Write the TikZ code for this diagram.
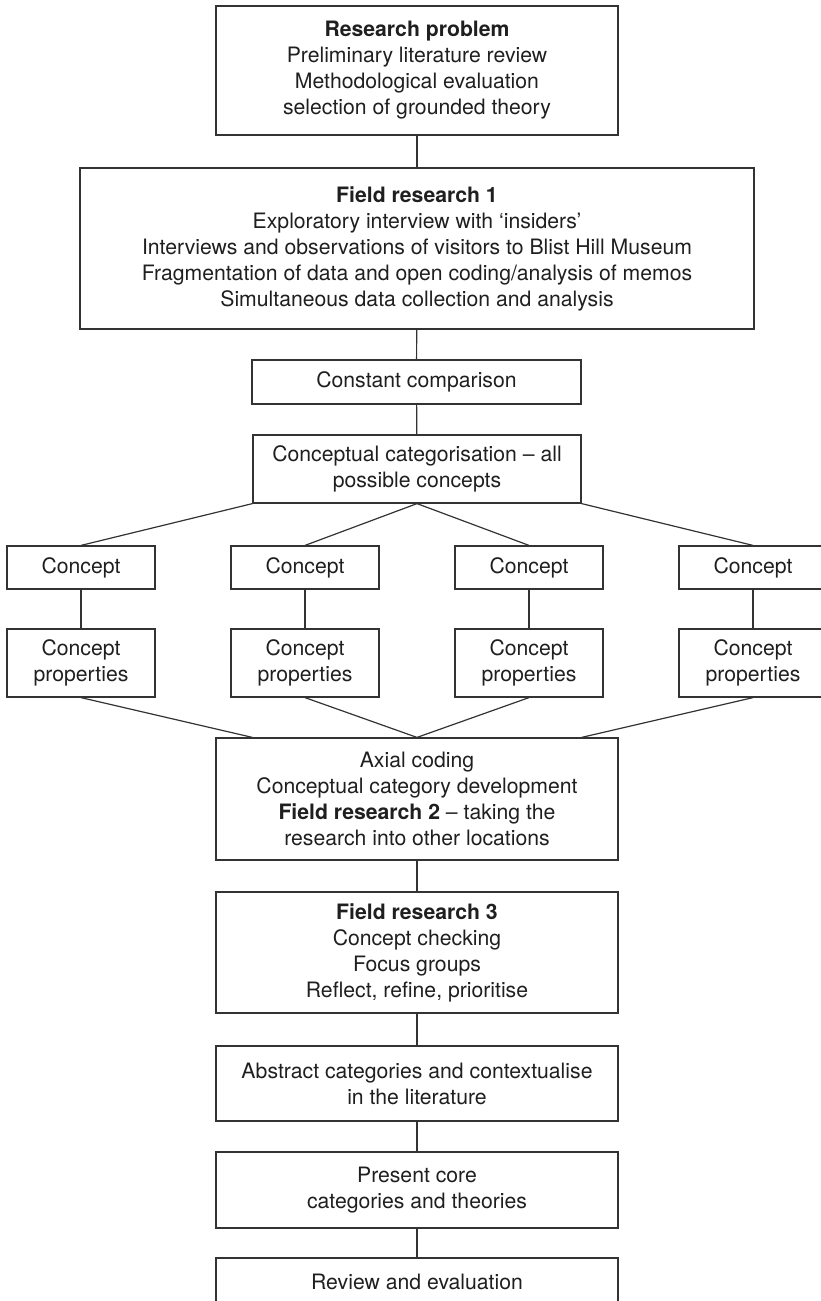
\documentclass[tikz,border=0pt]{standalone}
\usepackage{fontspec}
\setmainfont{TeX Gyre Heros}
\usetikzlibrary{calc}
\tikzset{
  box/.style={draw=black!80, line width=1.2pt, rectangle, inner sep=0pt, align=center,
    text=black!88, font={\fontsize{21.2}{26}\selectfont}},
  conn/.style={draw=black!80, line width=1.2pt},
}
\begin{document}
\begin{tikzpicture}[x=1pt,y=-1pt]
\useasboundingbox (0,0) rectangle (821,1301);
\clip (0,0) rectangle (821,1301);
\fill[white] (0,0) rectangle (821,1301);
\node[box, minimum width=402pt, minimum height=129pt] (b1) at (417,70.5)
  {\textbf{Research problem}\\Preliminary literature review\\Methodological evaluation\\selection of grounded theory};
\node[box, minimum width=674pt, minimum height=161pt] (b2) at (417,248.5)
  {\textbf{Field research 1}\\Exploratory interview with ‘insiders’\\Interviews and observations of visitors to Blist Hill Museum\\Fragmentation of data and open coding/analysis of memos\\Simultaneous data collection and analysis};
\node[box, minimum width=329pt, minimum height=44pt] (cc) at (416.5,382) {Constant comparison};
\node[box, minimum width=328pt, minimum height=68pt] (ccat) at (417,469)
  {Conceptual categorisation – all\\possible concepts};
\foreach \i/\x in {1/81,2/305,3/529,4/753}{
  \node[box, minimum width=148pt, minimum height=43pt] (c\i) at (\x,567.5) {Concept};
  \node[box, minimum width=148pt, minimum height=68pt] (p\i) at (\x,663) {Concept\\properties};
}
\node[box, minimum width=402pt, minimum height=122pt] (ax) at (417,799)
  {Axial coding\\Conceptual category development\\\textbf{Field research 2} – taking the\\research into other locations};
\node[box, minimum width=402pt, minimum height=121pt] (f3) at (417,952.5)
  {\textbf{Field research 3}\\Concept checking\\Focus groups\\Reflect, refine, prioritise};
\node[box, minimum width=402pt, minimum height=75pt] (ab) at (417,1083.5)
  {Abstract categories and contextualise\\in the literature};
\node[box, minimum width=402pt, minimum height=76pt] (pr) at (417,1190)
  {Present core\\categories and theories};
\node[box, minimum width=402pt, minimum height=48pt] (rv) at (417,1282) {Review and evaluation};
\coordinate (axl) at (ccat.south west |- ax.north);
\coordinate (axr) at (ccat.south east |- ax.north);
\draw[conn] (b1) -- (b2);
\draw[conn] (b2) -- (cc);
\draw[conn] (cc) -- (ccat);
\draw[conn] (ccat.south west) -- (c1.north);
\draw[conn] (ccat.south) -- (c2.north);
\draw[conn] (ccat.south) -- (c3.north);
\draw[conn] (ccat.south east) -- (c4.north);
\foreach \i in {1,2,3,4}{ \draw[conn] (c\i) -- (p\i); }
\draw[conn] (p1.south) -- (axl);
\draw[conn] (p2.south) -- (ax.north);
\draw[conn] (p3.south) -- (ax.north);
\draw[conn] (p4.south) -- (axr);
\draw[conn] (ax) -- (f3);
\draw[conn] (f3) -- (ab);
\draw[conn] (ab) -- (pr);
\draw[conn] (pr) -- (rv);
\end{tikzpicture}
\end{document}
